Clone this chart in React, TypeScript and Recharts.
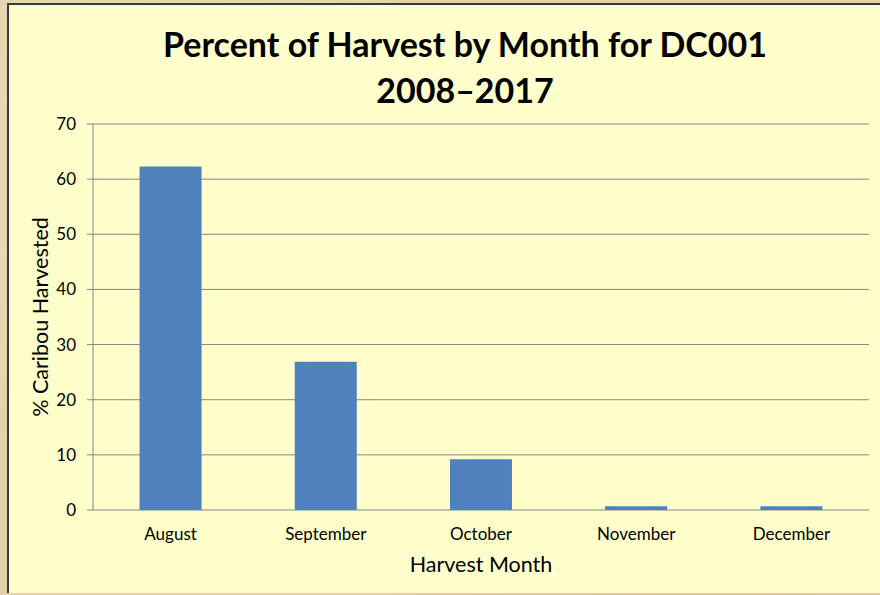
import { Bar, BarChart, CartesianGrid, Label, XAxis, YAxis } from "recharts";

const months = ["August", "September", "October", "November", "December"];
const percentHarvested = [62.3, 26.9, 9.2, 0.7, 0.7];
const yTicks = [0, 10, 20, 30, 40, 50, 60, 70];
// Excel-style tick marks sit between categories
const edgeTicks = [0, 1, 2, 3, 4, 5];

const data = months.map((month, i) => ({ month, pct: percentHarvested[i] }));

const FONT = "Lato, 'Open Sans', sans-serif";
const AXIS_GREY = "#868686";

export default function App() {
    return (
        <div
            style={{
                position: "absolute",
                left: 0,
                top: 0,
                width: 880,
                height: 595,
                overflow: "hidden",
                background:
                    "radial-gradient(circle at 20% 30%, #efe0bd 0%, transparent 40%), radial-gradient(circle at 80% 70%, #d9c39a 0%, transparent 45%), #e4d1a9",
            }}
        >
            <div
                style={{
                    position: "absolute",
                    left: 7,
                    top: 3,
                    width: 873,
                    height: 590,
                    background: "#ffffcc",
                    borderLeft: "2px solid #3a3a3a",
                    borderTop: "2px solid #3a3a3a",
                    boxSizing: "border-box",
                }}
            >
                <svg width={873} height={120} style={{ position: "absolute", left: -2, top: -2 }}>
                    <text x={458} y={54} textAnchor="middle" fontFamily={FONT} fontWeight={700} fontSize={34} fill="#000">
                        Percent of Harvest by Month for DC001
                    </text>
                    <text x={458} y={100} textAnchor="middle" fontFamily={FONT} fontWeight={700} fontSize={34} fill="#000">
                        2008–2017
                    </text>
                </svg>
                <div style={{ position: "absolute", left: -2, top: -2 }}>
                    <BarChart
                        width={873}
                        height={590}
                        data={data}
                        margin={{ top: 121, right: 11, bottom: 0, left: 36 }}
                        barCategoryGap="30%"
                        style={{ fontFamily: FONT }}
                    >
                        <CartesianGrid xAxisId="cat" vertical={false} stroke={AXIS_GREY} />
                        <XAxis
                            xAxisId="edge"
                            type="number"
                            domain={[0, 5]}
                            ticks={edgeTicks}
                            height={0}
                            tickSize={6}
                            tickFormatter={() => ""}
                            axisLine={{ stroke: AXIS_GREY }}
                            tickLine={{ stroke: AXIS_GREY }}
                        />
                        <XAxis
                            xAxisId="cat"
                            dataKey="month"
                            height={83}
                            axisLine={false}
                            tickLine={false}
                            tickSize={6}
                            tickMargin={12}
                            interval={0}
                            tick={{ fontSize: 17, fill: "#000" }}
                        >
                            <Label value="Harvest Month" position="insideBottom" offset={21} style={{ fontSize: 21.5, fill: "#000" }} />
                        </XAxis>
                        <YAxis
                            width={50}
                            domain={[0, 70]}
                            ticks={yTicks}
                            tickSize={6}
                            tickMargin={11}
                            axisLine={{ stroke: AXIS_GREY }}
                            tickLine={{ stroke: AXIS_GREY }}
                            tick={{ fontSize: 17, fill: "#000" }}
                        >
                            <Label
                                value="% Caribou Harvested"
                                angle={-90}
                                position="insideLeft"
                                offset={-3}
                                style={{ fontSize: 21.5, fill: "#000", textAnchor: "middle" }}
                            />
                        </YAxis>
                        <Bar xAxisId="cat" dataKey="pct" fill="#4f81bd" isAnimationActive={false} />
                    </BarChart>
                </div>
            </div>
        </div>
    );
}
